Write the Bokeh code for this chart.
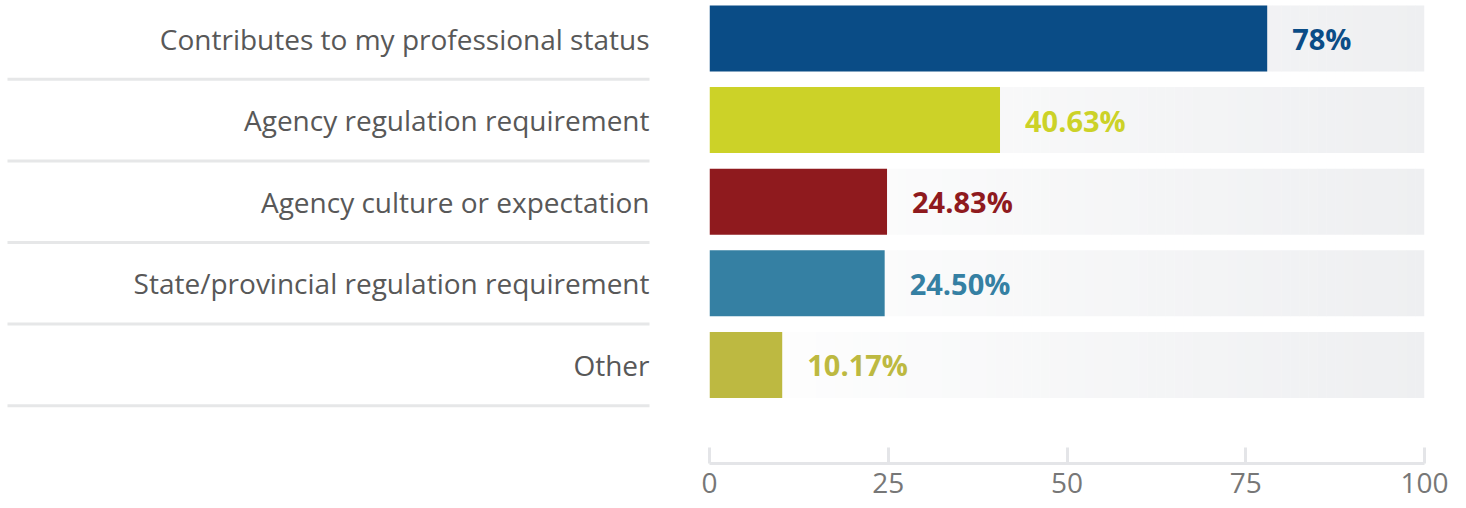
import numpy as np
from bokeh.plotting import figure
from bokeh.layouts import row
from bokeh.models import Range1d, FixedTicker, ColumnDataSource
from bokeh.core.properties import value
from bokeh.embed import file_html
from bokeh.resources import INLINE

categories = ["Contributes to my professional status", "Agency regulation requirement",
              "Agency culture or expectation", "State/provincial regulation requirement", "Other"]
values = [78.0, 40.63, 24.83, 24.50, 10.17]
value_labels = ["78%", "40.63%", "24.83%", "24.50%", "10.17%"]
colors = ["#0a4c86", "#ccd228", "#8f1a1e", "#3580a3", "#bdb941"]
ticks = [0, 25, 50, 75, 100]

pos = list(range(len(categories)))
pitch = 81.6
y_range = Range1d(start=-38 / pitch + 463 / pitch, end=-38 / pitch)

H = 508
LW = 689
RW = 1466 - LW
BB = 45

# ---- left label panel
left = figure(width=LW, height=H, x_range=Range1d(0, LW), y_range=y_range,
              x_axis_location=None, y_axis_location=None, toolbar_location=None,
              output_backend="svg", min_border_left=0, min_border_right=0,
              min_border_top=0, min_border_bottom=BB)
left.outline_line_color = None
left.grid.visible = False
left.segment(x0=7, x1=649, y0=[p + 0.5 for p in pos], y1=[p + 0.5 for p in pos],
             line_color="#e6e7e8", line_width=3)
left.text(x=649, y=pos, text=categories, text_align="right", text_baseline="middle",
          text_font=value("Open Sans"), text_font_size="28px", text_color="#585858")

# ---- right bar panel
right = figure(width=RW, height=H, x_range=Range1d(0, 100), y_range=y_range,
               y_axis_location=None, toolbar_location=None, output_backend="svg",
               min_border_left=20, min_border_right=RW - 20 - 715,
               min_border_top=0, min_border_bottom=BB)
right.outline_line_color = None
right.grid.visible = False

# gradient background track
n = 80
edges = np.linspace(0, 100, n + 1)
c0 = np.array([255, 255, 255])
c1 = np.array([238, 239, 241])
seg_left, seg_right, seg_y, seg_col = [], [], [], []
for p in pos:
    for i in range(n):
        t = (i + 0.5) / n
        c = (c0 + (c1 - c0) * t).round().astype(int)
        seg_left.append(edges[i])
        seg_right.append(edges[i + 1] + 0.05)
        seg_y.append(p)
        seg_col.append("#%02x%02x%02x" % tuple(c))
right.hbar(y=seg_y, left=seg_left, right=seg_right, height=66 / pitch, fill_color=seg_col,
           line_color=None)

src = ColumnDataSource(dict(y=pos, v=values, c=colors, lab=value_labels))
right.hbar(y="y", left=0, right="v", height=66 / pitch, fill_color="c", line_color=None, source=src)
right.text(x="v", y="y", text="lab", x_offset=25, text_align="left", text_baseline="middle",
           text_color="c", text_font=value("Open Sans"), text_font_style="bold",
           text_font_size="29px", source=src)

ax = right.xaxis[0]
ax.ticker = FixedTicker(ticks=ticks)
ax.axis_line_color = "#e4e5e8"
ax.axis_line_width = 3
ax.major_tick_line_color = "#e4e5e8"
ax.major_tick_line_width = 3
ax.major_tick_in = 16
ax.major_tick_out = 0
ax.minor_tick_line_color = None
ax.major_label_text_font = "Open Sans"
ax.major_label_text_font_size = "28px"
ax.major_label_text_color = "#777777"
ax.major_label_standoff = 9

layout = row(left, right, spacing=0)
open("out.html", "w").write(file_html(layout, INLINE))
